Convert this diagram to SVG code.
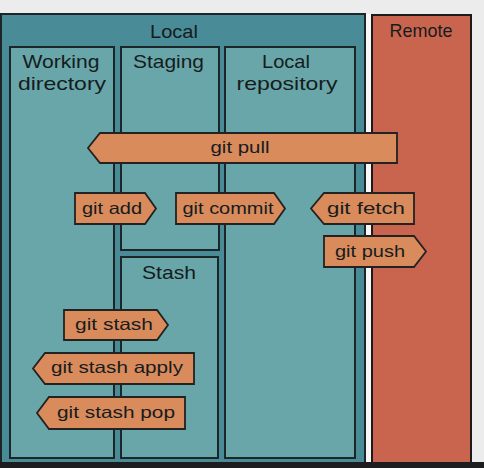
<svg xmlns="http://www.w3.org/2000/svg" width="484" height="468" viewBox="0 0 484 468">
<style>
.outer{fill:#4a8b98;stroke:#1c2629;stroke-width:2}
.inner{fill:#68a6a9;stroke:#1c2629;stroke-width:2}
.remote{fill:#c9654f;stroke:#1c1a1a;stroke-width:2}
.tag{fill:#d98b5c;stroke:#222;stroke-width:1.8;stroke-linejoin:miter}
.t{font-family:"Liberation Sans","DejaVu Sans",sans-serif;fill:#161c1d;text-anchor:middle}
.h{font-size:19px}
.l{font-size:16.5px}
</style>
<rect x="0" y="0" width="484" height="468" fill="#ececec"/>
<rect x="365" y="14" width="7" height="450" fill="#f8f8f8"/>
<g id="local">
<rect class="outer" x="1" y="14" width="364" height="452"/>
<text class="t h" x="174" y="38" textLength="48" lengthAdjust="spacingAndGlyphs">Local</text>
</g>
<g id="remote">
<rect class="remote" x="372" y="15" width="99" height="451"/>
<text class="t h" x="421" y="37" textLength="63" lengthAdjust="spacingAndGlyphs">Remote</text>
</g>
<g id="working-directory">
<rect class="inner" x="10" y="47" width="104" height="411"/>
<text class="t h" x="61" y="68" textLength="77" lengthAdjust="spacingAndGlyphs">Working</text>
<text class="t h" x="62" y="90" textLength="88" lengthAdjust="spacingAndGlyphs">directory</text>
</g>
<g id="staging">
<rect class="inner" x="121" y="47" width="98" height="203"/>
<text class="t h" x="168.500" y="68" textLength="71" lengthAdjust="spacingAndGlyphs">Staging</text>
</g>
<g id="stash">
<rect class="inner" x="121" y="257" width="97" height="201"/>
<text class="t h" x="169" y="279" textLength="54" lengthAdjust="spacingAndGlyphs">Stash</text>
</g>
<g id="local-repository">
<rect class="inner" x="225" y="47" width="130" height="411"/>
<text class="t h" x="286" y="68" textLength="48" lengthAdjust="spacingAndGlyphs">Local</text>
<text class="t h" x="287" y="90" textLength="101" lengthAdjust="spacingAndGlyphs">repository</text>
</g>
<g id="connectors"></g>
<g id="git-pull">
<polygon class="tag" points="100,133 397,133 397,163 100,163 88,148"/>
<text class="t l" x="240" y="153" textLength="59" lengthAdjust="spacingAndGlyphs">git pull</text>
</g>
<g id="git-add">
<polygon class="tag" points="75,193 145,193 156,208.500 145,224 75,224"/>
<text class="t l" x="112" y="214" textLength="60" lengthAdjust="spacingAndGlyphs">git add</text>
</g>
<g id="git-commit">
<polygon class="tag" points="176,193 274,193 285,208.500 274,224 176,224"/>
<text class="t l" x="228" y="214" textLength="91" lengthAdjust="spacingAndGlyphs">git commit</text>
</g>
<g id="git-fetch">
<polygon class="tag" points="324,193 414,193 414,224 324,224 311,208.500"/>
<text class="t l" x="366" y="214" textLength="78" lengthAdjust="spacingAndGlyphs">git fetch</text>
</g>
<g id="git-push">
<polygon class="tag" points="324,236 414,236 426,251.500 414,267 324,267"/>
<text class="t l" x="370" y="257" textLength="70" lengthAdjust="spacingAndGlyphs">git push</text>
</g>
<g id="git-stash">
<polygon class="tag" points="64,310 157,310 168,325 157,340 64,340"/>
<text class="t l" x="114" y="330" textLength="78" lengthAdjust="spacingAndGlyphs">git stash</text>
</g>
<g id="git-stash-apply">
<polygon class="tag" points="45,353 194,353 194,384 45,384 33,368.500"/>
<text class="t l" x="117" y="373" textLength="132" lengthAdjust="spacingAndGlyphs">git stash apply</text>
</g>
<g id="git-stash-pop">
<polygon class="tag" points="49,397 185,397 185,429 49,429 37,413"/>
<text class="t l" x="116" y="418" textLength="118" lengthAdjust="spacingAndGlyphs">git stash pop</text>
</g>
<rect x="0" y="462" width="484" height="6" fill="#1d1d1f"/>
</svg>
